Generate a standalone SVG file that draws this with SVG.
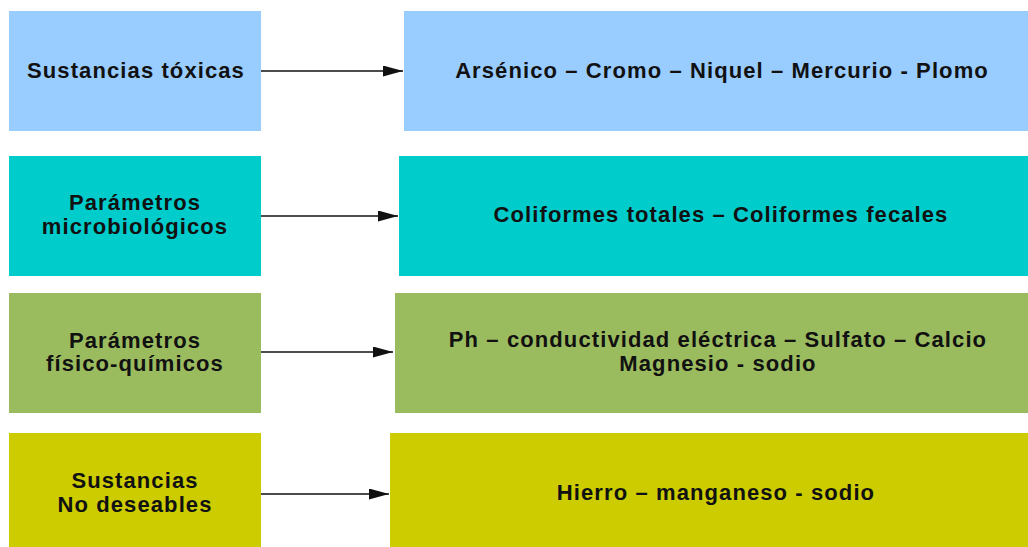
<svg xmlns="http://www.w3.org/2000/svg" width="1028" height="547" viewBox="0 0 1028 547">
  <style>
    .t { font-family: "Liberation Sans", Arial, sans-serif; font-weight: bold; font-size: 22px; letter-spacing: 1.1px; fill: #111111; text-anchor: middle; }
    .blue { fill: #99CCFF; }
    .teal { fill: #00CCCC; }
    .green { fill: #9BBB5F; }
    .yellow { fill: #CCCC00; }
    .conn { stroke: #111111; stroke-width: 1.5; fill: none; marker-end: url(#arrow); }
  </style>
  <defs>
    <marker id="arrow" markerUnits="userSpaceOnUse" markerWidth="20" markerHeight="11" refX="20" refY="5.5" orient="auto">
      <path d="M0,0 L20,5.5 L0,11 z" fill="#111111"/>
    </marker>
  </defs>
  <rect x="0" y="0" width="1028" height="547" fill="#FFFFFF"/>

  <g id="n-toxicas">
    <rect class="blue" x="9" y="11" width="252" height="120"/>
    <text class="t" x="136" y="78">Sustancias tóxicas</text>
  </g>
  <g id="n-toxicas-list">
    <rect class="blue" x="404" y="11" width="634" height="120"/>
    <text class="t" x="722" y="78">Arsénico – Cromo – Niquel – Mercurio - Plomo</text>
  </g>

  <g id="n-micro">
    <rect class="teal" x="9" y="156" width="252" height="120"/>
    <text class="t" x="135" y="210">Parámetros</text>
    <text class="t" x="135" y="234">microbiológicos</text>
  </g>
  <g id="n-micro-list">
    <rect class="teal" x="399" y="156" width="639" height="120"/>
    <text class="t" x="721" y="222">Coliformes totales – Coliformes fecales</text>
  </g>

  <g id="n-fisico">
    <rect class="green" x="9" y="293" width="252" height="120"/>
    <text class="t" x="135" y="348">Parámetros</text>
    <text class="t" x="135" y="371">físico-químicos</text>
  </g>
  <g id="n-fisico-list">
    <rect class="green" x="395" y="293" width="643" height="120"/>
    <text class="t" x="718" y="347">Ph – conductividad eléctrica – Sulfato – Calcio</text>
    <text class="t" x="718" y="371">Magnesio - sodio</text>
  </g>

  <g id="n-nodeseables">
    <rect class="yellow" x="9" y="433" width="252" height="120"/>
    <text class="t" x="135" y="488">Sustancias</text>
    <text class="t" x="135" y="512">No deseables</text>
  </g>
  <g id="n-nodeseables-list">
    <rect class="yellow" x="390" y="433" width="648" height="120"/>
    <text class="t" x="716" y="500">Hierro – manganeso - sodio</text>
  </g>

  <g id="connectors">
    <line class="conn" x1="261" y1="71" x2="403" y2="71"/>
    <line class="conn" x1="261" y1="216" x2="398" y2="216"/>
    <line class="conn" x1="261" y1="352" x2="393" y2="352"/>
    <line class="conn" x1="261" y1="494" x2="389" y2="494"/>
  </g>
</svg>
